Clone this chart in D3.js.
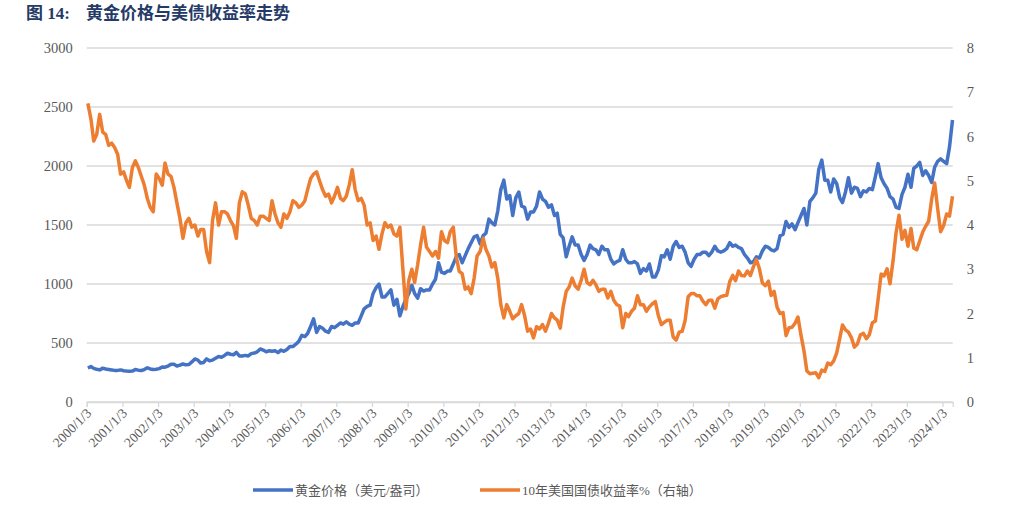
<!DOCTYPE html>
<html>
<head>
<meta charset="utf-8">
<script src="https://cdn.jsdelivr.net/npm/d3@7"></script>
<style>
  body { margin: 0; background: #fff; }
  svg { display: block; }
</style>
</head>
<body>
<svg id="chart" width="1010" height="508"></svg>
<script>
// monthly values, Jan 2000 .. Apr 2024 (one row per year)
const firstMonth = new Date(2000, 0, 15);

const goldPrice = [
  288, 300, 285, 277, 272, 287, 280, 276, 272, 268, 268, 272,
  265, 262, 260, 262, 275, 270, 267, 275, 290, 280, 275, 277,
  283, 297, 295, 305, 320, 320, 305, 312, 322, 315, 318, 340,
  365, 355, 330, 335, 365, 350, 355, 370, 385, 380, 395, 413,
  405, 400, 420, 390, 390, 395, 390, 410, 415, 425, 450, 440,
  425, 435, 430, 435, 418, 440, 430, 445, 470, 470, 490, 515,
  565, 555, 580, 640, 705, 590, 640, 625, 600, 590, 640, 630,
  650, 670, 660, 680, 660, 650, 670, 670, 730, 790, 810, 820,
  920, 970, 1000, 890, 890, 920, 950, 820, 870, 730, 810, 870,
  920, 990, 920, 880, 960, 940, 950, 950, 1000, 1040, 1180, 1100,
  1090, 1110, 1110, 1170, 1230, 1250, 1180, 1240, 1300, 1350, 1400, 1410,
  1340, 1410, 1430, 1550, 1520, 1500, 1620, 1800, 1880, 1720, 1750, 1580,
  1730, 1780, 1660, 1650, 1550, 1610, 1610, 1660, 1780, 1720, 1700, 1650,
  1670, 1580, 1600, 1420, 1390, 1230, 1320, 1400, 1330, 1330, 1250, 1200,
  1250, 1330, 1300, 1290, 1250, 1320, 1290, 1290, 1210, 1170, 1190, 1200,
  1290, 1210, 1180, 1180, 1190, 1170, 1090, 1130, 1110, 1170, 1060, 1060,
  1120, 1240, 1230, 1290, 1210, 1320, 1360, 1310, 1320, 1270, 1180, 1150,
  1210, 1250, 1250, 1270, 1270, 1240, 1270, 1320, 1280, 1270, 1280, 1300,
  1350, 1320, 1330, 1310, 1300, 1250, 1220, 1180, 1190, 1230, 1220, 1280,
  1320, 1310, 1290, 1280, 1300, 1410, 1420, 1530, 1480, 1510, 1460, 1520,
  1580, 1640, 1500, 1700, 1730, 1770, 1970, 2050, 1880, 1880, 1780, 1890,
  1850, 1730, 1690, 1780, 1900, 1770, 1820, 1810, 1740, 1790, 1780, 1810,
  1800, 1910, 2020, 1900, 1850, 1810, 1740, 1720, 1650, 1640, 1760, 1820,
  1930, 1820, 1980, 2000, 2030, 1920, 1960, 1920, 1860, 1990, 2040, 2060,
  2040, 2020, 2160, 2390
];

const yield10y = [
  6.75, 6.40, 5.90, 6.05, 6.50, 6.10, 6.05, 5.80, 5.85, 5.75, 5.60, 5.15,
  5.20, 5.00, 4.85, 5.30, 5.45, 5.30, 5.10, 4.90, 4.60, 4.40, 4.30, 5.15,
  5.05, 4.90, 5.40, 5.15, 5.10, 4.85, 4.50, 4.15, 3.70, 4.05, 4.15, 3.95,
  4.00, 3.75, 3.90, 3.90, 3.40, 3.15, 4.10, 4.50, 4.00, 4.30, 4.30, 4.25,
  4.10, 3.98, 3.70, 4.50, 4.75, 4.70, 4.45, 4.15, 4.10, 4.00, 4.20, 4.20,
  4.15, 4.10, 4.55, 4.25, 4.05, 3.95, 4.25, 4.15, 4.30, 4.55, 4.50, 4.40,
  4.45, 4.55, 4.80, 5.05, 5.15, 5.20, 5.00, 4.80, 4.65, 4.70, 4.50, 4.65,
  4.85, 4.60, 4.55, 4.65, 4.90, 5.25, 4.80, 4.55, 4.60, 4.45, 4.00, 4.05,
  3.65, 3.75, 3.45, 3.80, 4.05, 3.95, 4.00, 3.80, 3.75, 3.95, 3.00, 2.10,
  2.75, 3.00, 2.70, 3.10, 3.55, 3.95, 3.50, 3.40, 3.30, 3.40, 3.25, 3.85,
  3.65, 3.60, 3.85, 3.95, 3.30, 2.95, 2.90, 2.55, 2.60, 2.45, 2.80, 3.30,
  3.40, 3.70, 3.45, 3.30, 3.05, 3.15, 2.80, 2.20, 1.90, 2.20, 2.05, 1.88,
  1.95, 2.00, 2.20, 1.95, 1.60, 1.65, 1.45, 1.70, 1.65, 1.75, 1.60, 1.78,
  2.00, 1.90, 1.85, 1.67, 2.15, 2.50, 2.60, 2.80, 2.62, 2.55, 2.75, 3.00,
  2.70, 2.65, 2.75, 2.65, 2.50, 2.55, 2.55, 2.35, 2.50, 2.30, 2.20, 2.17,
  1.68, 2.00, 1.93, 2.05, 2.12, 2.40, 2.20, 2.20, 2.05, 2.15, 2.22, 2.27,
  1.95, 1.75, 1.80, 1.85, 1.85, 1.47, 1.40, 1.58, 1.60, 1.84, 2.38, 2.45,
  2.45, 2.40, 2.40, 2.28, 2.20, 2.30, 2.30, 2.12, 2.33, 2.38, 2.40, 2.41,
  2.72, 2.86, 2.74, 2.96, 2.86, 2.85, 2.96, 2.86, 3.06, 3.22, 3.01, 2.69,
  2.63, 2.73, 2.41, 2.50, 2.14, 2.00, 2.02, 1.50, 1.68, 1.69, 1.78, 1.92,
  1.51, 1.15, 0.70, 0.64, 0.65, 0.66, 0.55, 0.72, 0.69, 0.88, 0.84, 0.93,
  1.11, 1.44, 1.74, 1.63, 1.58, 1.45, 1.24, 1.31, 1.52, 1.55, 1.43, 1.52,
  1.79, 1.83, 2.32, 2.89, 2.85, 3.01, 2.67, 3.19, 3.83, 4.22, 3.68, 3.88,
  3.52, 3.92, 3.48, 3.44, 3.64, 3.84, 3.97, 4.09, 4.59, 4.95, 4.37, 3.85,
  3.99, 4.25, 4.20, 4.65
];

const leftTicks = [0, 500, 1000, 1500, 2000, 2500, 3000];
const rightTicks = [0, 1, 2, 3, 4, 5, 6, 7, 8];
const tickYears = d3.range(2000, 2025);

const titleLabel = "图 14:";
const titleText = "黄金价格与美债收益率走势";
const goldName = "黄金价格（美元/盎司）";
const yieldName = "10年美国国债收益率%（右轴）";

const blue = "#4472c4", orange = "#ed7d31", grey = "#595959", gridCol = "#d9d9d9";
const numFont = "'Liberation Serif', 'Noto Sans CJK SC', serif";

const svg = d3.select("#chart");
const plotLeft = 86.7, plotRight = 952.7, plotTop = 48, plotBottom = 402;

const months = goldPrice.map((_, i) => d3.timeMonth.offset(firstMonth, i));

const x = d3.scaleTime()
    .domain([new Date(2000, 0, 3), new Date(2024, 3, 17)])
    .range([plotLeft, plotRight]);
const y = d3.scaleLinear().domain([0, 3000]).range([plotBottom, plotTop]);
const y2 = d3.scaleLinear().domain([0, 8]).range([plotBottom, plotTop]);

// title
const title = svg.append("text")
    .attr("y", 19)
    .attr("font-family", numFont)
    .attr("font-weight", "bold")
    .attr("font-size", 17)
    .attr("fill", "#253a66");
title.append("tspan").attr("x", 26).text(titleLabel);
title.append("tspan").attr("x", 86).text(titleText);

// grid lines
svg.append("g")
    .selectAll("line")
    .data(leftTicks)
    .join("line")
    .attr("x1", plotLeft).attr("x2", plotRight)
    .attr("y1", d => y(d)).attr("y2", d => y(d))
    .attr("stroke", gridCol)
    .attr("stroke-width", 1.3);

// left axis
const yAxis = svg.append("g")
    .attr("transform", `translate(${plotLeft - 10},0)`)
    .call(d3.axisLeft(y).tickValues(leftTicks).tickFormat(d3.format("d")).tickSize(0).tickPadding(4));
yAxis.select(".domain").remove();
yAxis.selectAll("text")
    .attr("font-family", numFont).attr("font-size", 14.5).attr("fill", grey);

// right axis
const y2Axis = svg.append("g")
    .attr("transform", `translate(${plotRight + 10},0)`)
    .call(d3.axisRight(y2).tickValues(rightTicks).tickSize(0).tickPadding(4));
y2Axis.select(".domain").remove();
y2Axis.selectAll("text")
    .attr("font-family", numFont).attr("font-size", 14.5).attr("fill", grey);

// bottom axis
const xAxis = svg.append("g")
    .attr("transform", `translate(0,${plotBottom})`)
    .call(d3.axisBottom(x)
        .tickValues(tickYears.map(yr => new Date(yr, 0, 3)))
        .tickSize(5)
        .tickFormat(d3.timeFormat("%Y/%-m/%-d")));
xAxis.select(".domain").attr("stroke", gridCol).attr("stroke-width", 1.3);
xAxis.selectAll(".tick line").attr("stroke", gridCol).attr("stroke-width", 1.3);
xAxis.selectAll("text")
    .attr("font-family", numFont).attr("font-size", 13.5).attr("fill", grey)
    .attr("text-anchor", "end")
    .attr("dy", null)
    .attr("y", 0)
    .attr("transform", "translate(5,12) rotate(-45)");

// lines
const goldLine = d3.line()
    .x((d, i) => x(months[i]))
    .y(d => y(d));
const yieldLine = d3.line()
    .x((d, i) => x(months[i]))
    .y(d => y2(d));

svg.append("path")
    .datum(goldPrice)
    .attr("d", goldLine)
    .attr("fill", "none")
    .attr("stroke", blue)
    .attr("stroke-width", 3.5)
    .attr("stroke-linejoin", "round");

svg.append("path")
    .datum(yield10y)
    .attr("d", yieldLine)
    .attr("fill", "none")
    .attr("stroke", orange)
    .attr("stroke-width", 3.5)
    .attr("stroke-linejoin", "round");

// legend
const legend = [
  {name: goldName, color: blue, x: 253},
  {name: yieldName, color: orange, x: 480}
];
const lg = svg.append("g").selectAll("g").data(legend).join("g")
    .attr("transform", d => `translate(${d.x},490)`);
lg.append("line")
    .attr("x1", 0).attr("x2", 40)
    .attr("stroke", d => d.color)
    .attr("stroke-width", 3.5);
lg.append("text")
    .attr("x", 42).attr("y", 5)
    .attr("font-family", numFont)
    .attr("font-size", 13)
    .attr("fill", grey)
    .text(d => d.name);
</script>
</body>
</html>
